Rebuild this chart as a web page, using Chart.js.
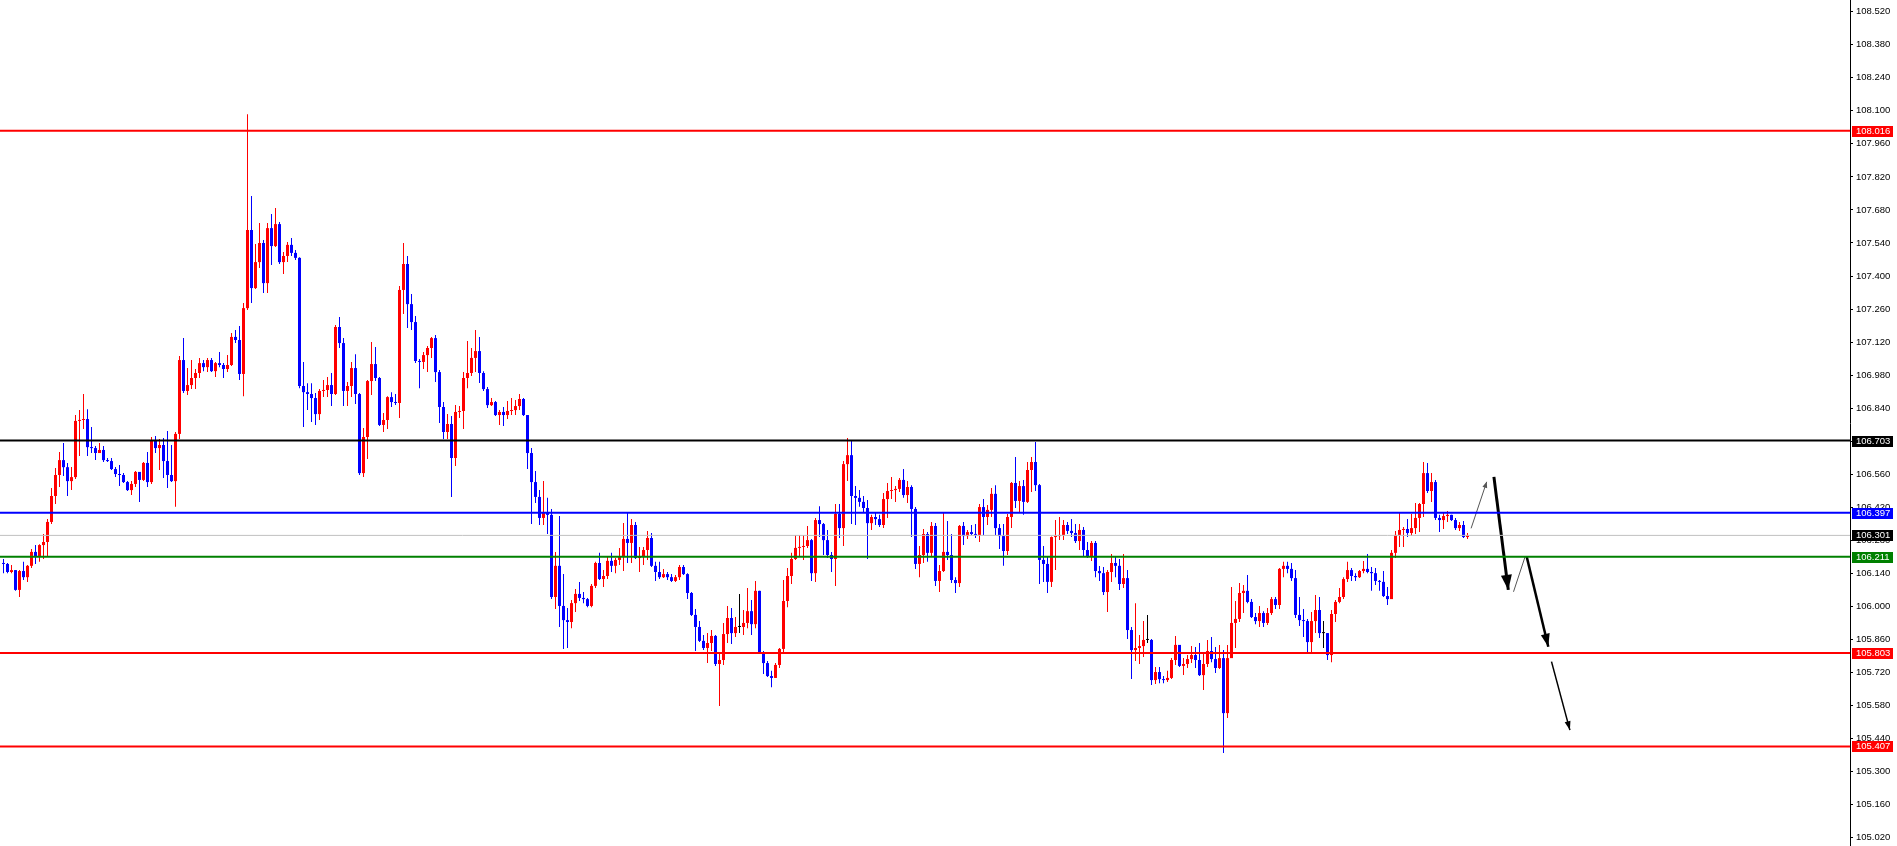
<!doctype html>
<html>
<head>
<meta charset="utf-8">
<title>Price chart</title>
<script src="https://cdn.jsdelivr.net/npm/chart.js"></script>
<style>
  html, body { margin: 0; padding: 0; background: #fff; overflow: hidden; }
  #wrap { position: relative; width: 1897px; height: 846px; }
</style>
</head>
<body>
<div id="wrap"><canvas id="chart"></canvas></div>
<script>
// candles: each open is the previous close (read that way off the picture)
const firstOpen = 106.184;
const closes = [
  106.180, 106.146, 106.154, 106.070, 106.150, 106.124, 106.172, 106.231, 106.210, 106.260,
  106.273, 106.358, 106.468, 106.557, 106.620, 106.590, 106.531, 106.548, 106.786, 106.790,
  106.794, 106.675, 106.671, 106.650, 106.663, 106.620, 106.616, 106.582, 106.561, 106.557,
  106.527, 106.493, 106.519, 106.570, 106.536, 106.608, 106.527, 106.701, 106.671, 106.684,
  106.616, 106.557, 106.531, 106.731, 107.044, 106.913, 106.938, 106.968, 106.989, 107.031,
  107.014, 107.044, 106.997, 107.031, 107.023, 107.006, 107.023, 107.142, 107.129, 106.985,
  107.264, 107.595, 107.349, 107.459, 107.540, 107.370, 107.603, 107.527, 107.620, 107.459,
  107.485, 107.532, 107.498, 107.477, 106.934, 106.908, 106.900, 106.883, 106.815, 106.913,
  106.917, 106.938, 106.900, 107.184, 107.116, 106.913, 106.934, 107.010, 106.900, 106.565,
  106.718, 106.955, 107.027, 106.968, 106.769, 106.790, 106.887, 106.866, 106.862, 107.341,
  107.451, 107.281, 107.205, 107.040, 107.036, 107.065, 107.095, 107.137, 106.993, 106.845,
  106.739, 106.773, 106.629, 106.824, 106.828, 106.968, 106.989, 107.053, 107.082, 106.989,
  106.921, 106.853, 106.866, 106.811, 106.824, 106.811, 106.828, 106.832, 106.849, 106.879,
  106.811, 106.650, 106.527, 106.464, 106.375, 106.400, 106.388, 106.040, 106.172, 106.002,
  105.942, 105.934, 106.014, 106.053, 106.036, 106.031, 106.002, 106.087, 106.184, 106.116,
  106.129, 106.193, 106.172, 106.197, 106.210, 106.286, 106.269, 106.345, 106.205, 106.210,
  106.239, 106.290, 106.172, 106.146, 106.124, 106.137, 106.124, 106.108, 106.124, 106.167,
  106.137, 106.057, 105.964, 105.913, 105.854, 105.824, 105.845, 105.875, 105.756, 105.773,
  105.883, 105.951, 105.887, 105.913, 105.913, 105.930, 105.980, 105.925, 106.066, 105.807,
  105.760, 105.705, 105.697, 105.752, 105.820, 106.023, 106.129, 106.201, 106.248, 106.252,
  106.256, 106.281, 106.141, 106.366, 106.349, 106.281, 106.218, 106.201, 106.392, 106.332,
  106.603, 106.641, 106.468, 106.460, 106.443, 106.417, 106.353, 106.379, 106.370, 106.345,
  106.455, 106.489, 106.493, 106.498, 106.536, 106.472, 106.506, 106.413, 106.180, 106.218,
  106.307, 106.227, 106.341, 106.108, 106.150, 106.231, 106.218, 106.112, 106.099, 106.341,
  106.298, 106.315, 106.307, 106.303, 106.421, 106.379, 106.409, 106.477, 106.332, 106.298,
  106.235, 106.379, 106.523, 106.447, 106.510, 106.443, 106.578, 106.612, 106.514, 106.197,
  106.180, 106.104, 106.294, 106.298, 106.303, 106.345, 106.320, 106.311, 106.277, 106.324,
  106.239, 106.210, 106.269, 106.150, 106.141, 106.061, 106.146, 106.184, 106.172, 106.095,
  106.120, 105.900, 105.815, 105.824, 105.832, 105.858, 105.858, 105.688, 105.722, 105.692,
  105.688, 105.697, 105.773, 105.837, 105.748, 105.756, 105.777, 105.794, 105.773, 105.709,
  105.756, 105.811, 105.777, 105.739, 105.781, 105.548, 105.781, 105.930, 105.947, 106.057,
  106.066, 106.019, 105.955, 105.938, 105.972, 105.930, 105.972, 106.031, 106.006, 106.159,
  106.172, 106.159, 106.120, 105.964, 105.942, 105.938, 105.849, 105.938, 105.985, 105.887,
  105.887, 105.794, 105.968, 106.019, 106.040, 106.116, 106.154, 106.129, 106.124, 106.150,
  106.159, 106.146, 106.141, 106.108, 106.104, 106.044, 106.031, 106.227, 106.303, 106.324,
  106.328, 106.311, 106.332, 106.375, 106.434, 106.565, 106.489, 106.527, 106.375, 106.366,
  106.383, 106.388, 106.366, 106.332, 106.345, 106.294, 106.301
];
const highs = [
  106.201, 106.184, 106.176, 106.154, 106.154, 106.189, 106.176, 106.243, 106.260, 106.264,
  106.307, 106.370, 106.502, 106.587, 106.654, 106.692, 106.608, 106.591, 106.811, 106.832,
  106.900, 106.836, 106.760, 106.680, 106.692, 106.680, 106.629, 106.629, 106.591, 106.599,
  106.565, 106.531, 106.531, 106.574, 106.570, 106.612, 106.654, 106.718, 106.722, 106.709,
  106.714, 106.743, 106.684, 106.739, 107.061, 107.137, 107.010, 107.044, 107.006, 107.053,
  107.044, 107.053, 107.053, 107.036, 107.078, 107.031, 107.065, 107.159, 107.171, 107.188,
  107.286, 108.086, 107.739, 107.536, 107.625, 107.553, 107.625, 107.663, 107.688, 107.629,
  107.502, 107.544, 107.561, 107.510, 107.480, 107.036, 106.946, 106.946, 106.904, 106.921,
  106.959, 106.972, 106.989, 107.192, 107.226, 107.137, 106.951, 107.036, 107.069, 106.904,
  106.756, 106.959, 107.120, 107.099, 106.972, 106.820, 106.891, 106.908, 106.900, 107.358,
  107.540, 107.485, 107.324, 107.231, 107.048, 107.078, 107.103, 107.142, 107.150, 107.002,
  106.866, 106.815, 106.807, 106.853, 106.849, 106.993, 107.125, 107.095, 107.171, 107.142,
  106.997, 106.930, 106.883, 106.870, 106.832, 106.845, 106.870, 106.883, 106.875, 106.900,
  106.883, 106.811, 106.671, 106.574, 106.493, 106.531, 106.460, 106.413, 106.231, 106.383,
  106.137, 105.993, 106.027, 106.074, 106.104, 106.061, 106.036, 106.095, 106.189, 106.227,
  106.154, 106.210, 106.227, 106.205, 106.248, 106.353, 106.396, 106.370, 106.358, 106.252,
  106.252, 106.320, 106.311, 106.189, 106.189, 106.159, 106.146, 106.137, 106.133, 106.176,
  106.176, 106.141, 106.061, 105.989, 105.938, 105.879, 105.887, 105.900, 105.879, 105.798,
  105.930, 106.002, 105.993, 105.955, 106.053, 105.985, 106.078, 106.027, 106.108, 106.066,
  105.811, 105.769, 105.727, 105.760, 105.824, 106.112, 106.163, 106.227, 106.303, 106.303,
  106.303, 106.341, 106.286, 106.375, 106.425, 106.353, 106.324, 106.231, 106.434, 106.434,
  106.616, 106.714, 106.705, 106.510, 106.493, 106.468, 106.451, 106.388, 106.396, 106.388,
  106.481, 106.523, 106.548, 106.510, 106.544, 106.582, 106.531, 106.514, 106.421, 106.256,
  106.328, 106.315, 106.358, 106.353, 106.176, 106.396, 106.362, 106.307, 106.124, 106.345,
  106.358, 106.324, 106.345, 106.349, 106.434, 106.455, 106.430, 106.502, 106.514, 106.349,
  106.349, 106.392, 106.527, 106.633, 106.531, 106.536, 106.612, 106.633, 106.697, 106.519,
  106.256, 106.210, 106.296, 106.366, 106.379, 106.366, 106.358, 106.370, 106.349, 106.349,
  106.337, 106.273, 106.277, 106.277, 106.171, 106.167, 106.154, 106.222, 106.210, 106.201,
  106.222, 106.154, 105.913, 106.014, 105.879, 105.938, 105.964, 105.862, 105.743, 105.743,
  105.705, 105.727, 105.781, 105.875, 105.837, 105.781, 105.794, 105.832, 105.828, 105.845,
  105.803, 105.858, 105.870, 105.828, 105.837, 105.815, 105.837, 106.082, 106.023, 106.099,
  106.091, 106.133, 106.031, 105.972, 106.002, 105.980, 105.993, 106.040, 106.040, 106.163,
  106.189, 106.189, 106.184, 106.154, 106.040, 105.989, 105.947, 105.976, 106.048, 106.040,
  105.938, 105.887, 105.985, 106.027, 106.078, 106.124, 106.189, 106.163, 106.141, 106.154,
  106.193, 106.222, 106.167, 106.163, 106.112, 106.150, 106.082, 106.239, 106.320, 106.396,
  106.337, 106.370, 106.392, 106.438, 106.438, 106.612, 106.608, 106.565, 106.536, 106.388,
  106.396, 106.404, 106.388, 106.375, 106.358, 106.362, 106.311
];
const lows = [
  106.141, 106.141, 106.141, 106.066, 106.040, 106.112, 106.104, 106.163, 106.180, 106.189,
  106.201, 106.210, 106.349, 106.434, 106.506, 106.553, 106.468, 106.493, 106.540, 106.637,
  106.752, 106.637, 106.650, 106.620, 106.650, 106.612, 106.612, 106.578, 106.548, 106.510,
  106.523, 106.489, 106.472, 106.506, 106.443, 106.531, 106.506, 106.519, 106.650, 106.578,
  106.544, 106.502, 106.527, 106.422, 106.709, 106.904, 106.896, 106.921, 106.921, 106.968,
  106.997, 106.993, 106.993, 106.972, 107.014, 106.968, 106.993, 107.019, 107.116, 106.959,
  106.891, 107.256, 107.286, 107.345, 107.434, 107.328, 107.328, 107.447, 107.523, 107.451,
  107.409, 107.459, 107.485, 107.468, 106.925, 106.760, 106.832, 106.781, 106.769, 106.790,
  106.887, 106.887, 106.849, 106.896, 107.095, 106.849, 106.849, 106.887, 106.858, 106.557,
  106.548, 106.625, 106.896, 106.955, 106.765, 106.739, 106.752, 106.845, 106.853, 106.798,
  107.239, 107.180, 107.171, 107.031, 106.925, 107.006, 106.993, 107.053, 106.951, 106.777,
  106.709, 106.709, 106.464, 106.595, 106.798, 106.752, 106.925, 106.976, 106.993, 106.947,
  106.913, 106.841, 106.849, 106.807, 106.769, 106.765, 106.794, 106.811, 106.811, 106.832,
  106.807, 106.582, 106.349, 106.438, 106.345, 106.345, 106.307, 106.031, 105.989, 105.913,
  105.820, 105.824, 105.908, 105.976, 106.023, 106.014, 105.997, 105.997, 106.078, 106.112,
  106.082, 106.116, 106.146, 106.141, 106.176, 106.150, 106.184, 106.184, 106.201, 106.146,
  106.176, 106.197, 106.167, 106.108, 106.116, 106.120, 106.112, 106.104, 106.104, 106.112,
  106.133, 106.031, 105.959, 105.811, 105.849, 105.815, 105.760, 105.811, 105.748, 105.578,
  105.752, 105.845, 105.841, 105.870, 105.887, 105.879, 105.908, 105.879, 105.908, 105.803,
  105.714, 105.701, 105.658, 105.697, 105.739, 105.807, 105.997, 106.095, 106.197, 106.210,
  106.197, 106.248, 106.108, 106.104, 106.294, 106.218, 106.205, 106.146, 106.087, 106.290,
  106.256, 106.531, 106.349, 106.345, 106.422, 106.396, 106.201, 106.324, 106.345, 106.337,
  106.332, 106.375, 106.455, 106.443, 106.485, 106.460, 106.438, 106.294, 106.159, 106.124,
  106.184, 106.189, 106.210, 106.087, 106.061, 106.146, 106.197, 106.099, 106.057, 106.082,
  106.260, 106.286, 106.303, 106.290, 106.273, 106.303, 106.345, 106.379, 106.303, 106.243,
  106.172, 106.218, 106.332, 106.417, 106.396, 106.388, 106.438, 106.485, 106.489, 106.095,
  106.104, 106.057, 106.082, 106.154, 106.281, 106.281, 106.307, 106.294, 106.269, 106.239,
  106.210, 106.205, 106.193, 106.124, 106.108, 106.048, 105.976, 106.104, 106.124, 106.070,
  106.078, 105.862, 105.693, 105.769, 105.756, 105.786, 105.845, 105.667, 105.671, 105.675,
  105.675, 105.680, 105.693, 105.752, 105.743, 105.709, 105.739, 105.760, 105.739, 105.705,
  105.646, 105.743, 105.764, 105.718, 105.735, 105.379, 105.527, 105.781, 105.824, 105.934,
  105.972, 106.014, 105.951, 105.925, 105.913, 105.913, 105.921, 105.964, 105.989, 105.989,
  106.124, 106.141, 106.108, 105.951, 105.917, 105.870, 105.807, 105.807, 105.887, 105.866,
  105.824, 105.773, 105.764, 105.934, 106.014, 106.031, 106.104, 106.108, 106.108, 106.120,
  106.141, 106.141, 106.066, 106.091, 106.066, 106.040, 106.006, 106.031, 106.205, 106.252,
  106.252, 106.294, 106.298, 106.307, 106.315, 106.379, 106.481, 106.443, 106.366, 106.315,
  106.328, 106.358, 106.362, 106.324, 106.320, 106.290, 106.286
];

// horizontal levels drawn on the chart
const levelPrices = [108.016, 106.703, 106.397, 106.301, 106.211, 105.803, 105.407];
const levelColors = ['#ff0000', '#000000', '#0000ff', '#c0c0c0', '#008000', '#ff0000', '#ff0000'];
const levelBoxColors = ['#ff0000', '#000000', '#0000ff', '#000000', '#008000', '#ff0000', '#ff0000'];

// price axis ticks
const yTicks = [105.020, 105.160, 105.300, 105.440, 105.580, 105.720, 105.860, 106.000, 106.140,
  106.280, 106.420, 106.560, 106.700, 106.840, 106.980, 107.120, 107.260, 107.400, 107.540,
  107.680, 107.820, 107.960, 108.100, 108.240, 108.380, 108.520];

// hand-drawn arrows: [bar index, price]
const arrowStarts = [[366.9, 106.331], [372.6, 106.549], [377.5, 106.062], [380.8, 106.211], [387.0, 105.766]];
const arrowEnds = [[370.8, 106.528], [376.2, 106.070], [380.4, 106.211], [386.2, 105.829], [391.6, 105.476]];

const UP = '#ff0000', DOWN = '#0000ff', FLAT = '#000000';
const opens = closes.map((c, i) => i === 0 ? firstOpen : closes[i - 1]);
const colors = closes.map((c, i) => c > opens[i] ? UP : (c < opens[i] ? DOWN : FLAT));

const wickData = closes.map((c, i) => ({ x: i, y: [lows[i], highs[i]] }));
const bodyData = closes.map((c, i) => ({ x: i, y: [Math.min(opens[i], c), Math.max(opens[i], c)] }));

const xMin = -0.875, xMax = 461.625;
const axisFont = '"Liberation Sans", Arial, sans-serif';

const levelSets = levelPrices.map((p, k) => ({
  type: 'line',
  data: [{ x: xMin, y: p }, { x: xMax, y: p }],
  borderColor: levelColors[k],
  borderWidth: k === 3 ? 1 : 2,
  pointRadius: 0,
  order: 0
}));

const arrowWidths = [1, 3, 1, 2.5, 1.5];
const arrowColors = ['#555555', '#000000', '#555555', '#000000', '#000000'];
const arrowHeads = [[6, 5], [15, 11], null, [13, 9], [9, 6]];
const arrowSets = arrowStarts.map((s, k) => ({
  type: 'line',
  data: [{ x: s[0], y: s[1] }, { x: arrowEnds[k][0], y: arrowEnds[k][1] }],
  borderColor: arrowColors[k],
  borderWidth: arrowWidths[k],
  pointRadius: 0,
  order: 0
}));

const overlay = {
  id: 'overlay',
  afterDatasetsDraw(chart) {
    const { ctx, scales: { x, y } } = chart;
    arrowEnds.forEach((e, k) => {
      const head = arrowHeads[k];
      if (!head) return;
      const s = arrowStarts[k];
      const x1 = x.getPixelForValue(s[0]), y1 = y.getPixelForValue(s[1]);
      const x2 = x.getPixelForValue(e[0]), y2 = y.getPixelForValue(e[1]);
      const a = Math.atan2(y2 - y1, x2 - x1);
      const bx = x2 - head[0] * Math.cos(a), by = y2 - head[0] * Math.sin(a);
      const nx = Math.sin(a) * head[1] / 2, ny = -Math.cos(a) * head[1] / 2;
      ctx.save();
      ctx.fillStyle = arrowColors[k];
      ctx.beginPath();
      ctx.moveTo(x2, y2);
      ctx.lineTo(bx + nx, by + ny);
      ctx.lineTo(bx - nx, by - ny);
      ctx.closePath();
      ctx.fill();
      ctx.restore();
    });
  },
  afterDraw(chart) {
    const { ctx, scales: { y } } = chart;
    ctx.save();
    ctx.font = '9.5px ' + axisFont;
    ctx.textBaseline = 'middle';
    levelPrices.forEach((p, k) => {
      const py = Math.round(y.getPixelForValue(p));
      ctx.fillStyle = levelBoxColors[k];
      ctx.fillRect(y.left + 2, py - 5, 41, 11);
      ctx.fillStyle = '#ffffff';
      ctx.fillText(p.toFixed(3), y.left + 6, py + 0.5);
    });
    ctx.restore();
  }
};

new Chart(document.getElementById('chart').getContext('2d'), {
  type: 'bar',
  data: {
    datasets: [
      ...levelSets,
      ...arrowSets,
      {
        data: bodyData,
        backgroundColor: colors,
        grouped: false,
        maxBarThickness: 3,
        barPercentage: 1,
        categoryPercentage: 1,
        minBarLength: 1,
        inflateAmount: 0,
        borderWidth: 0,
        order: 1
      },
      {
        data: wickData,
        backgroundColor: colors,
        grouped: false,
        maxBarThickness: 1,
        barPercentage: 1,
        categoryPercentage: 1,
        inflateAmount: 0,
        borderWidth: 0,
        order: 2
      }
    ]
  },
  options: {
    responsive: true,
    maintainAspectRatio: false,
    animation: false,
    devicePixelRatio: 1,
    layout: { padding: 0 },
    plugins: { legend: { display: false }, tooltip: { enabled: false } },
    scales: {
      x: { type: 'linear', display: false, min: xMin, max: xMax, offset: false },
      y: {
        position: 'right',
        min: 104.9849,
        max: 108.5696,
        afterBuildTicks: (scale) => { scale.ticks = yTicks.map(v => ({ value: v })); },
        afterFit: (scale) => { scale.width = 47; scale.paddingTop = 0; scale.paddingBottom = 0; },
        border: { display: true, color: '#000000', width: 1 },
        grid: { drawOnChartArea: false, drawTicks: true, tickLength: 3, color: '#000000' },
        ticks: {
          padding: 3,
          color: '#000000',
          font: { family: axisFont, size: 9.5 },
          callback: (v) => Number(v).toFixed(3)
        }
      }
    }
  },
  plugins: [overlay]
});
</script>
</body>
</html>
